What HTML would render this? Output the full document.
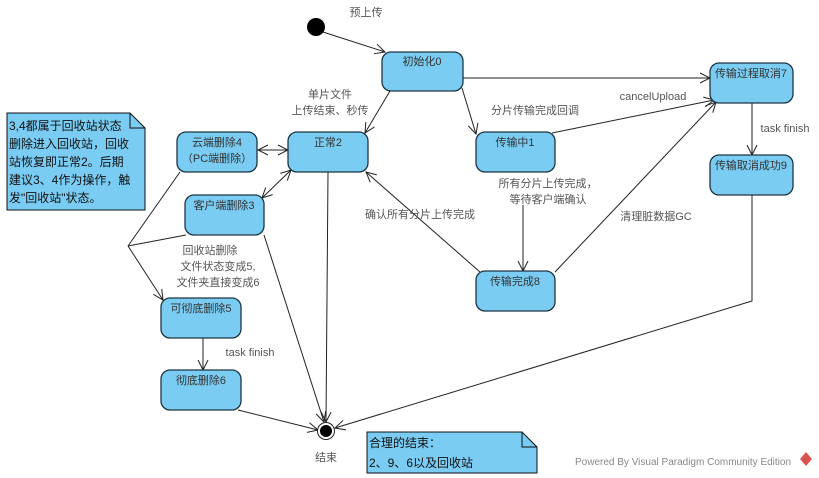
<!DOCTYPE html>
<html><head><meta charset="utf-8"><style>
html,body{margin:0;padding:0;background:#fff;}
svg{display:block;}
text{font-family:"Liberation Sans","Noto Sans CJK SC",sans-serif;font-size:11px;fill:#333;}
.st{fill:#7accf3;stroke:#1d3542;stroke-width:1.3;}
.l{stroke:#222;stroke-width:1;fill:none;}
.lbl{fill:#555;}
</style></head><body>
<svg width="819" height="478" viewBox="0 0 819 478" xmlns="http://www.w3.org/2000/svg">
<defs>
<marker id="a" markerWidth="12" markerHeight="12" refX="11" refY="6" orient="auto" markerUnits="userSpaceOnUse">
<path d="M1,1 L11,6 L1,11" fill="none" stroke="#222" stroke-width="1"/></marker>
<marker id="s" markerWidth="12" markerHeight="12" refX="1" refY="6" orient="auto" markerUnits="userSpaceOnUse">
<path d="M11,1 L1,6 L11,11" fill="none" stroke="#222" stroke-width="1"/></marker>
</defs>

<!-- connectors -->
<line class="l" x1="323" y1="32" x2="385" y2="52" marker-end="url(#a)"/>
<line class="l" x1="390" y1="91" x2="365" y2="133" marker-end="url(#a)"/>
<line class="l" x1="463" y1="78" x2="710" y2="78" marker-end="url(#a)"/>
<line class="l" x1="462" y1="88" x2="476" y2="134" marker-end="url(#a)"/>
<line class="l" x1="552" y1="133" x2="714" y2="100" marker-end="url(#a)"/>
<line class="l" x1="555" y1="272" x2="716" y2="102" marker-end="url(#a)"/>
<line class="l" x1="523" y1="205" x2="523" y2="271" marker-end="url(#a)"/>
<line class="l" x1="480" y1="272" x2="366" y2="172" marker-end="url(#a)"/>
<line class="l" x1="752" y1="103" x2="752" y2="155" marker-end="url(#a)"/>
<polyline class="l" points="752,195 752,301 335,428" marker-end="url(#a)"/>
<line class="l" x1="328" y1="172" x2="326" y2="422" marker-end="url(#a)"/>
<line class="l" x1="264" y1="235" x2="324" y2="422" marker-end="url(#a)"/>
<line class="l" x1="238" y1="410" x2="318" y2="430" marker-end="url(#a)"/>
<line class="l" x1="203" y1="338" x2="203" y2="370" marker-end="url(#a)"/>
<line class="l" x1="258" y1="150" x2="288" y2="150" marker-start="url(#s)" marker-end="url(#a)"/>
<line class="l" x1="262" y1="198" x2="291" y2="170" marker-start="url(#s)" marker-end="url(#a)"/>
<line class="l" x1="180" y1="172" x2="128" y2="246"/>
<line class="l" x1="186" y1="235" x2="128" y2="246"/>
<line class="l" x1="128" y1="246" x2="163" y2="300" marker-end="url(#a)"/>

<!-- start / end -->
<circle cx="316" cy="27" r="9" fill="#000"/>
<circle cx="326" cy="431" r="8.5" fill="#fff" stroke="#222" stroke-width="1"/>
<circle cx="326" cy="431" r="6" fill="#000"/>

<!-- states -->
<rect class="st" x="382" y="52" width="81" height="39" rx="9"/><text x="422" y="65" text-anchor="middle">初始化0</text>
<rect class="st" x="288" y="132" width="80" height="40" rx="9"/><text x="328" y="146" text-anchor="middle">正常2</text>
<rect class="st" x="177" y="132" width="80" height="40" rx="9"/><text x="217" y="146" text-anchor="middle">云端删除4</text><text x="217" y="162" text-anchor="middle">（PC端删除）</text>
<rect class="st" x="185" y="195" width="79" height="40" rx="9"/><text x="224" y="209" text-anchor="middle">客户端删除3</text>
<rect class="st" x="476" y="132" width="79" height="40" rx="9"/><text x="515" y="146" text-anchor="middle">传输中1</text>
<rect class="st" x="710" y="63" width="83" height="40" rx="9"/><text x="751" y="77" text-anchor="middle">传输过程取消7</text>
<rect class="st" x="710" y="155" width="83" height="40" rx="9"/><text x="751" y="169" text-anchor="middle">传输取消成功9</text>
<rect class="st" x="476" y="271" width="79" height="40" rx="9"/><text x="515" y="285" text-anchor="middle">传输完成8</text>
<rect class="st" x="161" y="298" width="80" height="40" rx="9"/><text x="201" y="312" text-anchor="middle">可彻底删除5</text>
<rect class="st" x="161" y="370" width="80" height="40" rx="9"/><text x="201" y="384" text-anchor="middle">彻底删除6</text>

<!-- notes -->
<path d="M7,113 L130,113 L145,128 L145,210 L7,210 Z" fill="#7accf3" stroke="#111" stroke-width="1"/>
<path d="M130,113 L130,128 L145,128" fill="none" stroke="#111"/>
<text x="9" y="130" style="font-size:12px;fill:#111">3,4都属于回收站状态</text>
<text x="9" y="148" style="font-size:12px;fill:#111">删除进入回收站，回收</text>
<text x="9" y="166" style="font-size:12px;fill:#111">站恢复即正常2。后期</text>
<text x="9" y="184" style="font-size:12px;fill:#111">建议3、4作为操作，触</text>
<text x="9" y="202" style="font-size:12px;fill:#111">发"回收站"状态。</text>

<path d="M367,432 L522,432 L537,447 L537,473 L367,473 Z" fill="#7accf3" stroke="#111" stroke-width="1"/>
<path d="M522,432 L522,447 L537,447" fill="none" stroke="#111"/>
<text x="369" y="447" style="font-size:12px;fill:#111">合理的结束：</text>
<text x="369" y="467" style="font-size:12px;fill:#111">2、9、6以及回收站</text>

<!-- labels -->
<text class="lbl" x="366" y="16" text-anchor="middle">预上传</text>
<text class="lbl" x="330" y="98" text-anchor="middle">单片文件</text>
<text class="lbl" x="330" y="114" text-anchor="middle">上传结束、秒传</text>
<text class="lbl" x="535" y="114" text-anchor="middle">分片传输完成回调</text>
<text class="lbl" x="653" y="100" text-anchor="middle">cancelUpload</text>
<text class="lbl" x="548" y="187" text-anchor="middle">所有分片上传完成，</text>
<text class="lbl" x="548" y="203" text-anchor="middle">等待客户端确认</text>
<text class="lbl" x="420" y="218" text-anchor="middle">确认所有分片上传完成</text>
<text class="lbl" x="656" y="220" text-anchor="middle">清理脏数据GC</text>
<text class="lbl" x="785" y="132" text-anchor="middle">task finish</text>
<text class="lbl" x="210" y="254" text-anchor="middle">回收站删除</text>
<text class="lbl" x="218" y="270" text-anchor="middle">文件状态变成5,</text>
<text class="lbl" x="218" y="286" text-anchor="middle">文件夹直接变成6</text>
<text class="lbl" x="250" y="356" text-anchor="middle">task finish</text>
<text class="lbl" x="326" y="461" text-anchor="middle">结束</text>
<text x="575" y="465" style="font-size:10px;fill:#888">Powered By Visual Paradigm Community Edition</text>
<path d="M806,452 L812,459 L806,466 L800,459 Z" fill="#d9534f"/>
</svg>
</body></html>
